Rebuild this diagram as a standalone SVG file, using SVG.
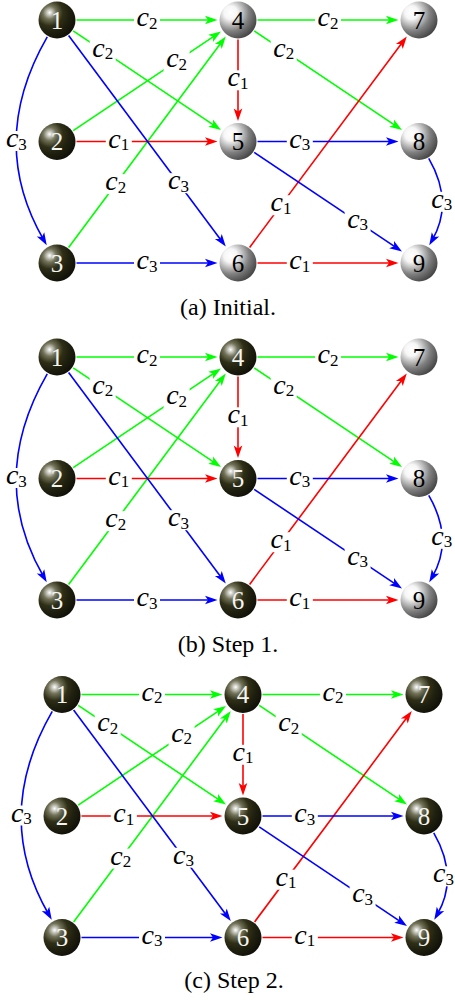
<svg xmlns="http://www.w3.org/2000/svg" width="455" height="1000" viewBox="0 0 455 1000">
<style>
.e{fill:none;stroke-width:1.6}
.g{stroke:#00ff00}.r{stroke:#ff0000}.b{stroke:#0000ff}
.mg{marker-end:url(#ag)}.mr{marker-end:url(#ar)}.mb{marker-end:url(#ab)}
.lb rect{fill:#ffffff}
.lb text{font-family:"Liberation Serif","Times New Roman","DejaVu Serif",serif;font-size:28px;font-style:italic;text-anchor:middle;fill:#000}
.lb tspan.s{font-size:17px;font-style:normal}
.dk{fill:url(#ballDark)}.gy{fill:url(#ballGray)}
.nt{font-family:"Liberation Serif","Times New Roman","DejaVu Serif",serif;font-size:25px;text-anchor:middle}
.tw{fill:#f4f4f0}.tb{fill:#000}
.cap{font-family:"Liberation Serif","Times New Roman","DejaVu Serif",serif;font-size:24px;text-anchor:middle;fill:#000}
</style>
<defs>
<radialGradient id="ballDark" cx="0.3" cy="0.3" r="1" fx="0.3" fy="0.3">
<stop offset="0" stop-color="#ffffff"/><stop offset="0.18" stop-color="#727259"/><stop offset="0.36" stop-color="#2f2f17"/><stop offset="0.5" stop-color="#222211"/><stop offset="1" stop-color="#000000"/>
</radialGradient>
<radialGradient id="ballGray" cx="0.3" cy="0.3" r="1" fx="0.3" fy="0.3">
<stop offset="0" stop-color="#ffffff"/><stop offset="0.18" stop-color="#f6f6f6"/><stop offset="0.36" stop-color="#b3b3b3"/><stop offset="0.5" stop-color="#808080"/><stop offset="1" stop-color="#101010"/>
</radialGradient>
<marker id="ag" markerUnits="userSpaceOnUse" viewBox="-8 -6 16 12" markerWidth="16" markerHeight="12" refX="0" refY="0" orient="auto"><path d="M6,0 L-6.5,-4.3 L-3.5,0 L-6.5,4.3 Z" fill="#00ff00"/></marker>
<marker id="ar" markerUnits="userSpaceOnUse" viewBox="-8 -6 16 12" markerWidth="16" markerHeight="12" refX="0" refY="0" orient="auto"><path d="M6,0 L-6.5,-4.3 L-3.5,0 L-6.5,4.3 Z" fill="#ff0000"/></marker>
<marker id="ab" markerUnits="userSpaceOnUse" viewBox="-8 -6 16 12" markerWidth="16" markerHeight="12" refX="0" refY="0" orient="auto"><path d="M6,0 L-6.5,-4.3 L-3.5,0 L-6.5,4.3 Z" fill="#0000ff"/></marker>
</defs>

<!-- Panel (a) -->
<g id="panel-a">
<g id="a-connectors">
<path class="e g mg" d="M76.5,20 L211.5,20"/>
<path class="e g mg" d="M73.2,30.9 L216,126.7"/>
<path class="e g mg" d="M73.2,130.6 L216,34.8"/>
<path class="e g mg" d="M68.6,247.4 L222.2,41.3"/>
<path class="e g mg" d="M257.5,20 L392.5,20"/>
<path class="e g mg" d="M254.2,30.9 L397,126.7"/>
<path class="e r mr" d="M76.5,141.5 L211.5,141.5"/>
<path class="e r mr" d="M238,39.5 L238,115"/>
<path class="e r mr" d="M249.6,247.4 L403.2,41.3"/>
<path class="e r mr" d="M257.5,263 L392.5,263"/>
<path class="e b mb" d="M68.6,35.6 L222.2,241.7"/>
<path class="e b mb" d="M47.25,36.9 C6.5,107.5 6,174.6 43.75,240"/>
<path class="e b mb" d="M76.5,263 L211.5,263"/>
<path class="e b mb" d="M257.5,141.5 L392.5,141.5"/>
<path class="e b mb" d="M254.2,152.4 L397,248.2"/>
<path class="e b mb" d="M428.75,158.4 C445.75,187.8 446.25,215.8 432.25,240"/>
<g class="lb" transform="translate(147,20)"><rect x="-13" y="-10" width="26" height="20"/><text y="6">c<tspan class="s" dy="2.5">2</tspan></text></g>
<g class="lb" transform="translate(102.7,50.7)"><rect x="-13" y="-10" width="26" height="20"/><text y="6">c<tspan class="s" dy="2.5">2</tspan></text></g>
<g class="lb" transform="translate(176.6,61.2)"><rect x="-13" y="-10" width="26" height="20"/><text y="6">c<tspan class="s" dy="2.5">2</tspan></text></g>
<g class="lb" transform="translate(115.7,184.1)"><rect x="-13" y="-10" width="26" height="20"/><text y="6">c<tspan class="s" dy="2.5">2</tspan></text></g>
<g class="lb" transform="translate(328,20)"><rect x="-13" y="-10" width="26" height="20"/><text y="6">c<tspan class="s" dy="2.5">2</tspan></text></g>
<g class="lb" transform="translate(283.7,50.7)"><rect x="-13" y="-10" width="26" height="20"/><text y="6">c<tspan class="s" dy="2.5">2</tspan></text></g>
<g class="lb" transform="translate(118.8,141.5)"><rect x="-13" y="-10" width="26" height="20"/><text y="6">c<tspan class="s" dy="2.5">1</tspan></text></g>
<g class="lb" transform="translate(238,80.3)"><rect x="-13" y="-10" width="26" height="20"/><text y="6">c<tspan class="s" dy="2.5">1</tspan></text></g>
<g class="lb" transform="translate(281,205.2)"><rect x="-13" y="-10" width="26" height="20"/><text y="6">c<tspan class="s" dy="2.5">1</tspan></text></g>
<g class="lb" transform="translate(299.8,263)"><rect x="-13" y="-10" width="26" height="20"/><text y="6">c<tspan class="s" dy="2.5">1</tspan></text></g>
<g class="lb" transform="translate(178.5,183.2)"><rect x="-13" y="-10" width="26" height="20"/><text y="6">c<tspan class="s" dy="2.5">3</tspan></text></g>
<g class="lb" transform="translate(16.4,141)"><rect x="-13" y="-10" width="26" height="20"/><text y="6">c<tspan class="s" dy="2.5">3</tspan></text></g>
<g class="lb" transform="translate(147,263)"><rect x="-13" y="-10" width="26" height="20"/><text y="6">c<tspan class="s" dy="2.5">3</tspan></text></g>
<g class="lb" transform="translate(299.8,141.5)"><rect x="-13" y="-10" width="26" height="20"/><text y="6">c<tspan class="s" dy="2.5">3</tspan></text></g>
<g class="lb" transform="translate(357.6,221.8)"><rect x="-13" y="-10" width="26" height="20"/><text y="6">c<tspan class="s" dy="2.5">3</tspan></text></g>
<g class="lb" transform="translate(441.7,201.8)"><rect x="-13" y="-10" width="26" height="20"/><text y="6">c<tspan class="s" dy="2.5">3</tspan></text></g>
</g>
<g id="a-n1"><circle class="dk" cx="57" cy="20" r="18.5"/><text class="nt tw" x="57" y="28.5">1</text></g>
<g id="a-n2"><circle class="dk" cx="57" cy="141.5" r="18.5"/><text class="nt tw" x="57" y="150">2</text></g>
<g id="a-n3"><circle class="dk" cx="57" cy="263" r="18.5"/><text class="nt tw" x="57" y="271.5">3</text></g>
<g id="a-n4"><circle class="gy" cx="238" cy="20" r="18.5"/><text class="nt tb" x="238" y="28.5">4</text></g>
<g id="a-n5"><circle class="gy" cx="238" cy="141.5" r="18.5"/><text class="nt tb" x="238" y="150">5</text></g>
<g id="a-n6"><circle class="gy" cx="238" cy="263" r="18.5"/><text class="nt tb" x="238" y="271.5">6</text></g>
<g id="a-n7"><circle class="gy" cx="419" cy="20" r="18.5"/><text class="nt tb" x="419" y="28.5">7</text></g>
<g id="a-n8"><circle class="gy" cx="419" cy="141.5" r="18.5"/><text class="nt tb" x="419" y="150">8</text></g>
<g id="a-n9"><circle class="gy" cx="419" cy="263" r="18.5"/><text class="nt tb" x="419" y="271.5">9</text></g>
<text class="cap" x="228" y="315">(a) Initial.</text>
</g>

<!-- Panel (b) -->
<g id="panel-b" transform="translate(0,337)">
<g id="b-connectors">
<path class="e g mg" d="M76.5,20 L211.5,20"/>
<path class="e g mg" d="M73.2,30.9 L216,126.7"/>
<path class="e g mg" d="M73.2,130.6 L216,34.8"/>
<path class="e g mg" d="M68.6,247.4 L222.2,41.3"/>
<path class="e g mg" d="M257.5,20 L392.5,20"/>
<path class="e g mg" d="M254.2,30.9 L397,126.7"/>
<path class="e r mr" d="M76.5,141.5 L211.5,141.5"/>
<path class="e r mr" d="M238,39.5 L238,115"/>
<path class="e r mr" d="M249.6,247.4 L403.2,41.3"/>
<path class="e r mr" d="M257.5,263 L392.5,263"/>
<path class="e b mb" d="M68.6,35.6 L222.2,241.7"/>
<path class="e b mb" d="M47.25,36.9 C6.5,107.5 6,174.6 43.75,240"/>
<path class="e b mb" d="M76.5,263 L211.5,263"/>
<path class="e b mb" d="M257.5,141.5 L392.5,141.5"/>
<path class="e b mb" d="M254.2,152.4 L397,248.2"/>
<path class="e b mb" d="M428.75,158.4 C445.75,187.8 446.25,215.8 432.25,240"/>
<g class="lb" transform="translate(147,20)"><rect x="-13" y="-10" width="26" height="20"/><text y="6">c<tspan class="s" dy="2.5">2</tspan></text></g>
<g class="lb" transform="translate(102.7,50.7)"><rect x="-13" y="-10" width="26" height="20"/><text y="6">c<tspan class="s" dy="2.5">2</tspan></text></g>
<g class="lb" transform="translate(176.6,61.2)"><rect x="-13" y="-10" width="26" height="20"/><text y="6">c<tspan class="s" dy="2.5">2</tspan></text></g>
<g class="lb" transform="translate(115.7,184.1)"><rect x="-13" y="-10" width="26" height="20"/><text y="6">c<tspan class="s" dy="2.5">2</tspan></text></g>
<g class="lb" transform="translate(328,20)"><rect x="-13" y="-10" width="26" height="20"/><text y="6">c<tspan class="s" dy="2.5">2</tspan></text></g>
<g class="lb" transform="translate(283.7,50.7)"><rect x="-13" y="-10" width="26" height="20"/><text y="6">c<tspan class="s" dy="2.5">2</tspan></text></g>
<g class="lb" transform="translate(118.8,141.5)"><rect x="-13" y="-10" width="26" height="20"/><text y="6">c<tspan class="s" dy="2.5">1</tspan></text></g>
<g class="lb" transform="translate(238,80.3)"><rect x="-13" y="-10" width="26" height="20"/><text y="6">c<tspan class="s" dy="2.5">1</tspan></text></g>
<g class="lb" transform="translate(281,205.2)"><rect x="-13" y="-10" width="26" height="20"/><text y="6">c<tspan class="s" dy="2.5">1</tspan></text></g>
<g class="lb" transform="translate(299.8,263)"><rect x="-13" y="-10" width="26" height="20"/><text y="6">c<tspan class="s" dy="2.5">1</tspan></text></g>
<g class="lb" transform="translate(178.5,183.2)"><rect x="-13" y="-10" width="26" height="20"/><text y="6">c<tspan class="s" dy="2.5">3</tspan></text></g>
<g class="lb" transform="translate(16.4,141)"><rect x="-13" y="-10" width="26" height="20"/><text y="6">c<tspan class="s" dy="2.5">3</tspan></text></g>
<g class="lb" transform="translate(147,263)"><rect x="-13" y="-10" width="26" height="20"/><text y="6">c<tspan class="s" dy="2.5">3</tspan></text></g>
<g class="lb" transform="translate(299.8,141.5)"><rect x="-13" y="-10" width="26" height="20"/><text y="6">c<tspan class="s" dy="2.5">3</tspan></text></g>
<g class="lb" transform="translate(357.6,221.8)"><rect x="-13" y="-10" width="26" height="20"/><text y="6">c<tspan class="s" dy="2.5">3</tspan></text></g>
<g class="lb" transform="translate(441.7,201.8)"><rect x="-13" y="-10" width="26" height="20"/><text y="6">c<tspan class="s" dy="2.5">3</tspan></text></g>
</g>
<g id="b-n1"><circle class="dk" cx="57" cy="20" r="18.5"/><text class="nt tw" x="57" y="28.5">1</text></g>
<g id="b-n2"><circle class="dk" cx="57" cy="141.5" r="18.5"/><text class="nt tw" x="57" y="150">2</text></g>
<g id="b-n3"><circle class="dk" cx="57" cy="263" r="18.5"/><text class="nt tw" x="57" y="271.5">3</text></g>
<g id="b-n4"><circle class="dk" cx="238" cy="20" r="18.5"/><text class="nt tw" x="238" y="28.5">4</text></g>
<g id="b-n5"><circle class="dk" cx="238" cy="141.5" r="18.5"/><text class="nt tw" x="238" y="150">5</text></g>
<g id="b-n6"><circle class="dk" cx="238" cy="263" r="18.5"/><text class="nt tw" x="238" y="271.5">6</text></g>
<g id="b-n7"><circle class="gy" cx="419" cy="20" r="18.5"/><text class="nt tb" x="419" y="28.5">7</text></g>
<g id="b-n8"><circle class="gy" cx="419" cy="141.5" r="18.5"/><text class="nt tb" x="419" y="150">8</text></g>
<g id="b-n9"><circle class="gy" cx="419" cy="263" r="18.5"/><text class="nt tb" x="419" y="271.5">9</text></g>
<text class="cap" x="228" y="315">(b) Step 1.</text>
</g>

<!-- Panel (c) -->
<g id="panel-c" transform="translate(5,674.5)">
<g id="c-connectors">
<path class="e g mg" d="M76.5,20 L211.5,20"/>
<path class="e g mg" d="M73.2,30.9 L216,126.7"/>
<path class="e g mg" d="M73.2,130.6 L216,34.8"/>
<path class="e g mg" d="M68.6,247.4 L222.2,41.3"/>
<path class="e g mg" d="M257.5,20 L392.5,20"/>
<path class="e g mg" d="M254.2,30.9 L397,126.7"/>
<path class="e r mr" d="M76.5,141.5 L211.5,141.5"/>
<path class="e r mr" d="M238,39.5 L238,115"/>
<path class="e r mr" d="M249.6,247.4 L403.2,41.3"/>
<path class="e r mr" d="M257.5,263 L392.5,263"/>
<path class="e b mb" d="M68.6,35.6 L222.2,241.7"/>
<path class="e b mb" d="M47.25,36.9 C6.5,107.5 6,174.6 43.75,240"/>
<path class="e b mb" d="M76.5,263 L211.5,263"/>
<path class="e b mb" d="M257.5,141.5 L392.5,141.5"/>
<path class="e b mb" d="M254.2,152.4 L397,248.2"/>
<path class="e b mb" d="M428.75,158.4 C445.75,187.8 446.25,215.8 432.25,240"/>
<g class="lb" transform="translate(147,20)"><rect x="-13" y="-10" width="26" height="20"/><text y="6">c<tspan class="s" dy="2.5">2</tspan></text></g>
<g class="lb" transform="translate(102.7,50.7)"><rect x="-13" y="-10" width="26" height="20"/><text y="6">c<tspan class="s" dy="2.5">2</tspan></text></g>
<g class="lb" transform="translate(176.6,61.2)"><rect x="-13" y="-10" width="26" height="20"/><text y="6">c<tspan class="s" dy="2.5">2</tspan></text></g>
<g class="lb" transform="translate(115.7,184.1)"><rect x="-13" y="-10" width="26" height="20"/><text y="6">c<tspan class="s" dy="2.5">2</tspan></text></g>
<g class="lb" transform="translate(328,20)"><rect x="-13" y="-10" width="26" height="20"/><text y="6">c<tspan class="s" dy="2.5">2</tspan></text></g>
<g class="lb" transform="translate(283.7,50.7)"><rect x="-13" y="-10" width="26" height="20"/><text y="6">c<tspan class="s" dy="2.5">2</tspan></text></g>
<g class="lb" transform="translate(118.8,141.5)"><rect x="-13" y="-10" width="26" height="20"/><text y="6">c<tspan class="s" dy="2.5">1</tspan></text></g>
<g class="lb" transform="translate(238,80.3)"><rect x="-13" y="-10" width="26" height="20"/><text y="6">c<tspan class="s" dy="2.5">1</tspan></text></g>
<g class="lb" transform="translate(281,205.2)"><rect x="-13" y="-10" width="26" height="20"/><text y="6">c<tspan class="s" dy="2.5">1</tspan></text></g>
<g class="lb" transform="translate(299.8,263)"><rect x="-13" y="-10" width="26" height="20"/><text y="6">c<tspan class="s" dy="2.5">1</tspan></text></g>
<g class="lb" transform="translate(178.5,183.2)"><rect x="-13" y="-10" width="26" height="20"/><text y="6">c<tspan class="s" dy="2.5">3</tspan></text></g>
<g class="lb" transform="translate(16.4,141)"><rect x="-13" y="-10" width="26" height="20"/><text y="6">c<tspan class="s" dy="2.5">3</tspan></text></g>
<g class="lb" transform="translate(147,263)"><rect x="-13" y="-10" width="26" height="20"/><text y="6">c<tspan class="s" dy="2.5">3</tspan></text></g>
<g class="lb" transform="translate(299.8,141.5)"><rect x="-13" y="-10" width="26" height="20"/><text y="6">c<tspan class="s" dy="2.5">3</tspan></text></g>
<g class="lb" transform="translate(357.6,221.8)"><rect x="-13" y="-10" width="26" height="20"/><text y="6">c<tspan class="s" dy="2.5">3</tspan></text></g>
<g class="lb" transform="translate(438.5,201.8)"><rect x="-11" y="-10" width="22" height="20"/><text y="6">c<tspan class="s" dy="2.5">3</tspan></text></g>
</g>
<g id="c-n1"><circle class="dk" cx="57" cy="20" r="18.5"/><text class="nt tw" x="57" y="28.5">1</text></g>
<g id="c-n2"><circle class="dk" cx="57" cy="141.5" r="18.5"/><text class="nt tw" x="57" y="150">2</text></g>
<g id="c-n3"><circle class="dk" cx="57" cy="263" r="18.5"/><text class="nt tw" x="57" y="271.5">3</text></g>
<g id="c-n4"><circle class="dk" cx="238" cy="20" r="18.5"/><text class="nt tw" x="238" y="28.5">4</text></g>
<g id="c-n5"><circle class="dk" cx="238" cy="141.5" r="18.5"/><text class="nt tw" x="238" y="150">5</text></g>
<g id="c-n6"><circle class="dk" cx="238" cy="263" r="18.5"/><text class="nt tw" x="238" y="271.5">6</text></g>
<g id="c-n7"><circle class="dk" cx="419" cy="20" r="18.5"/><text class="nt tw" x="419" y="28.5">7</text></g>
<g id="c-n8"><circle class="dk" cx="419" cy="141.5" r="18.5"/><text class="nt tw" x="419" y="150">8</text></g>
<g id="c-n9"><circle class="dk" cx="419" cy="263" r="18.5"/><text class="nt tw" x="419" y="271.5">9</text></g>
<text class="cap" x="229" y="313.5">(c) Step 2.</text>
</g>
</svg>
